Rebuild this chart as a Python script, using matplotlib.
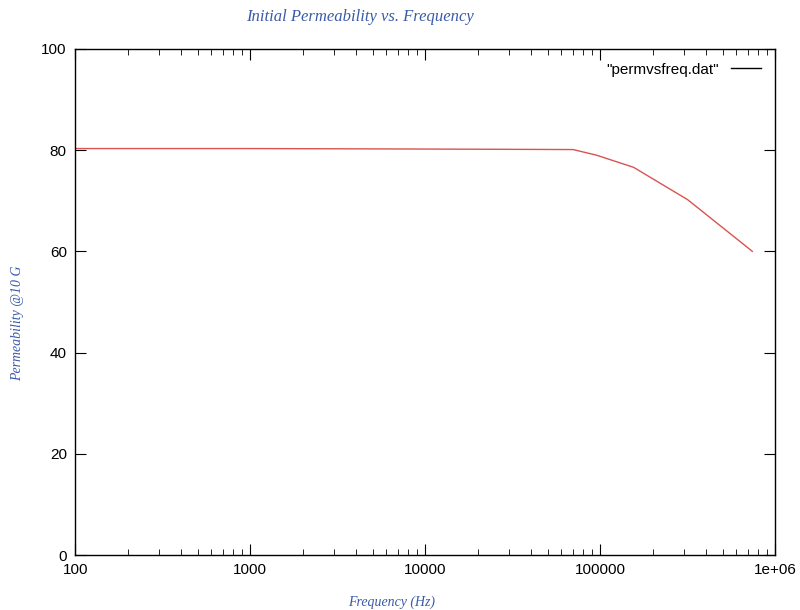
import matplotlib
matplotlib.use("Agg")
import matplotlib.pyplot as plt
from matplotlib.lines import Line2D
from matplotlib.ticker import LogLocator, FixedLocator, NullFormatter

# data
freq = [100, 1000, 10000, 70000, 95000, 155000, 316000, 740000]
perm = [80.3, 80.3, 80.2, 80.1, 79.0, 76.6, 70.2, 60.0]

x_ticks = [100, 1000, 10000, 100000, 1000000]
x_labels = ["100", "1000", "10000", "100000", "1e+06"]
y_ticks = [0, 20, 40, 60, 80, 100]

blue = "#3a5aa8"

fig = plt.figure(figsize=(8, 6.1), dpi=100)
ax = fig.add_axes([0.094, 0.090, 0.875, 0.830])

ax.plot(freq, perm, color="#d9534f", linewidth=1.0)

ax.set_xscale("log")
ax.set_xlim(100, 1e6)
ax.set_ylim(0, 100)
ax.xaxis.set_major_locator(FixedLocator(x_ticks))
ax.set_xticklabels(x_labels)
ax.xaxis.set_minor_locator(LogLocator(base=10, subs=range(2, 10)))
ax.xaxis.set_minor_formatter(NullFormatter())
ax.set_yticks(y_ticks)

ax.tick_params(which="both", direction="in", top=True, right=True,
               labelsize=11, pad=6)
ax.tick_params(which="major", length=8)
ax.tick_params(which="minor", length=4)
for lbl in ax.get_xticklabels() + ax.get_yticklabels():
    lbl.set_family("Liberation Sans")
for s in ax.spines.values():
    s.set_linewidth(1.0)

handle = Line2D([], [], color="black", linewidth=1.0)
ax.legend([handle], ['"permvsfreq.dat"'], loc="upper right", frameon=False,
          prop={"family": "Liberation Sans", "size": 11}, markerfirst=False,
          handlelength=2.0)

fig.text(0.45, 0.972, "Initial Permeability vs. Frequency", ha="center",
         va="center", color=blue, fontsize=12, style="italic",
         family="Liberation Serif")
fig.text(0.49, 0.012, "Frequency (Hz)", ha="center", va="center",
         color=blue, fontsize=10, style="italic", family="Liberation Serif")
fig.text(0.022, 0.47, "Permeability @10 G", ha="center", va="center",
         rotation=90, color=blue, fontsize=10, style="italic",
         family="Liberation Serif")

fig.savefig("out.png", dpi=100)
